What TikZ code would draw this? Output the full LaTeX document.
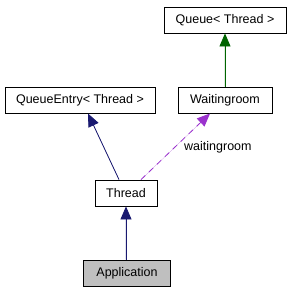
\documentclass[tikz,border=0pt]{standalone}
\usepackage{fontspec}
\setmainfont{Liberation Sans}
\usetikzlibrary{arrows.meta}
\definecolor{inh}{HTML}{191970}
\definecolor{dg}{HTML}{006400}
\definecolor{purp}{HTML}{9A32CD}
\tikzset{
  cls/.style={draw=black, line width=0.8pt, fill=white, minimum height=26pt, inner xsep=0pt, font=\fontsize{12.5}{14}\selectfont, anchor=center},
  cur/.style={cls, fill=black!25},
  tip/.style={-{Triangle[length=13pt,width=11pt]}, line width=0.8pt},
  inhedge/.style={tip, draw=inh, fill=inh},
  tmpl/.style={tip, draw=dg, fill=dg},
  use/.style={tip, draw=purp, fill=purp, dash pattern=on 6pt off 5pt},
  lbl/.style={font=\fontsize{12.5}{14}\selectfont, inner sep=0pt}
}
\begin{document}
\begin{tikzpicture}[x=1pt,y=-1pt]
\useasboundingbox (0,0) rectangle (292,293);
\node[cls, minimum width=122pt] (queue) at (225,20) {Queue< Thread >};
\node[cls, minimum width=150pt] (qentry) at (80,100) {QueueEntry< Thread >};
\node[cls, minimum width=94pt] (wroom) at (225,100) {Waitingroom};
\node[cls, minimum width=62pt] (thread) at (126,193) {Thread};
\node[cur, minimum width=87pt] (app) at (127,273) {Application};
\coordinate (tq) at (119,180);
\coordinate (tw) at (141,180);
\draw[tmpl] (wroom.north) -- (queue.south);
\draw[inhedge] (thread.north -| tq) -- (88,113.5);
\draw[use] (thread.north -| tw) -- (210,113.5);
\draw[inhedge] (app.north -| thread) -- (thread.south);
\node[lbl, anchor=west] (wl) at (184,147) {waitingroom};
\end{tikzpicture}
\end{document}
